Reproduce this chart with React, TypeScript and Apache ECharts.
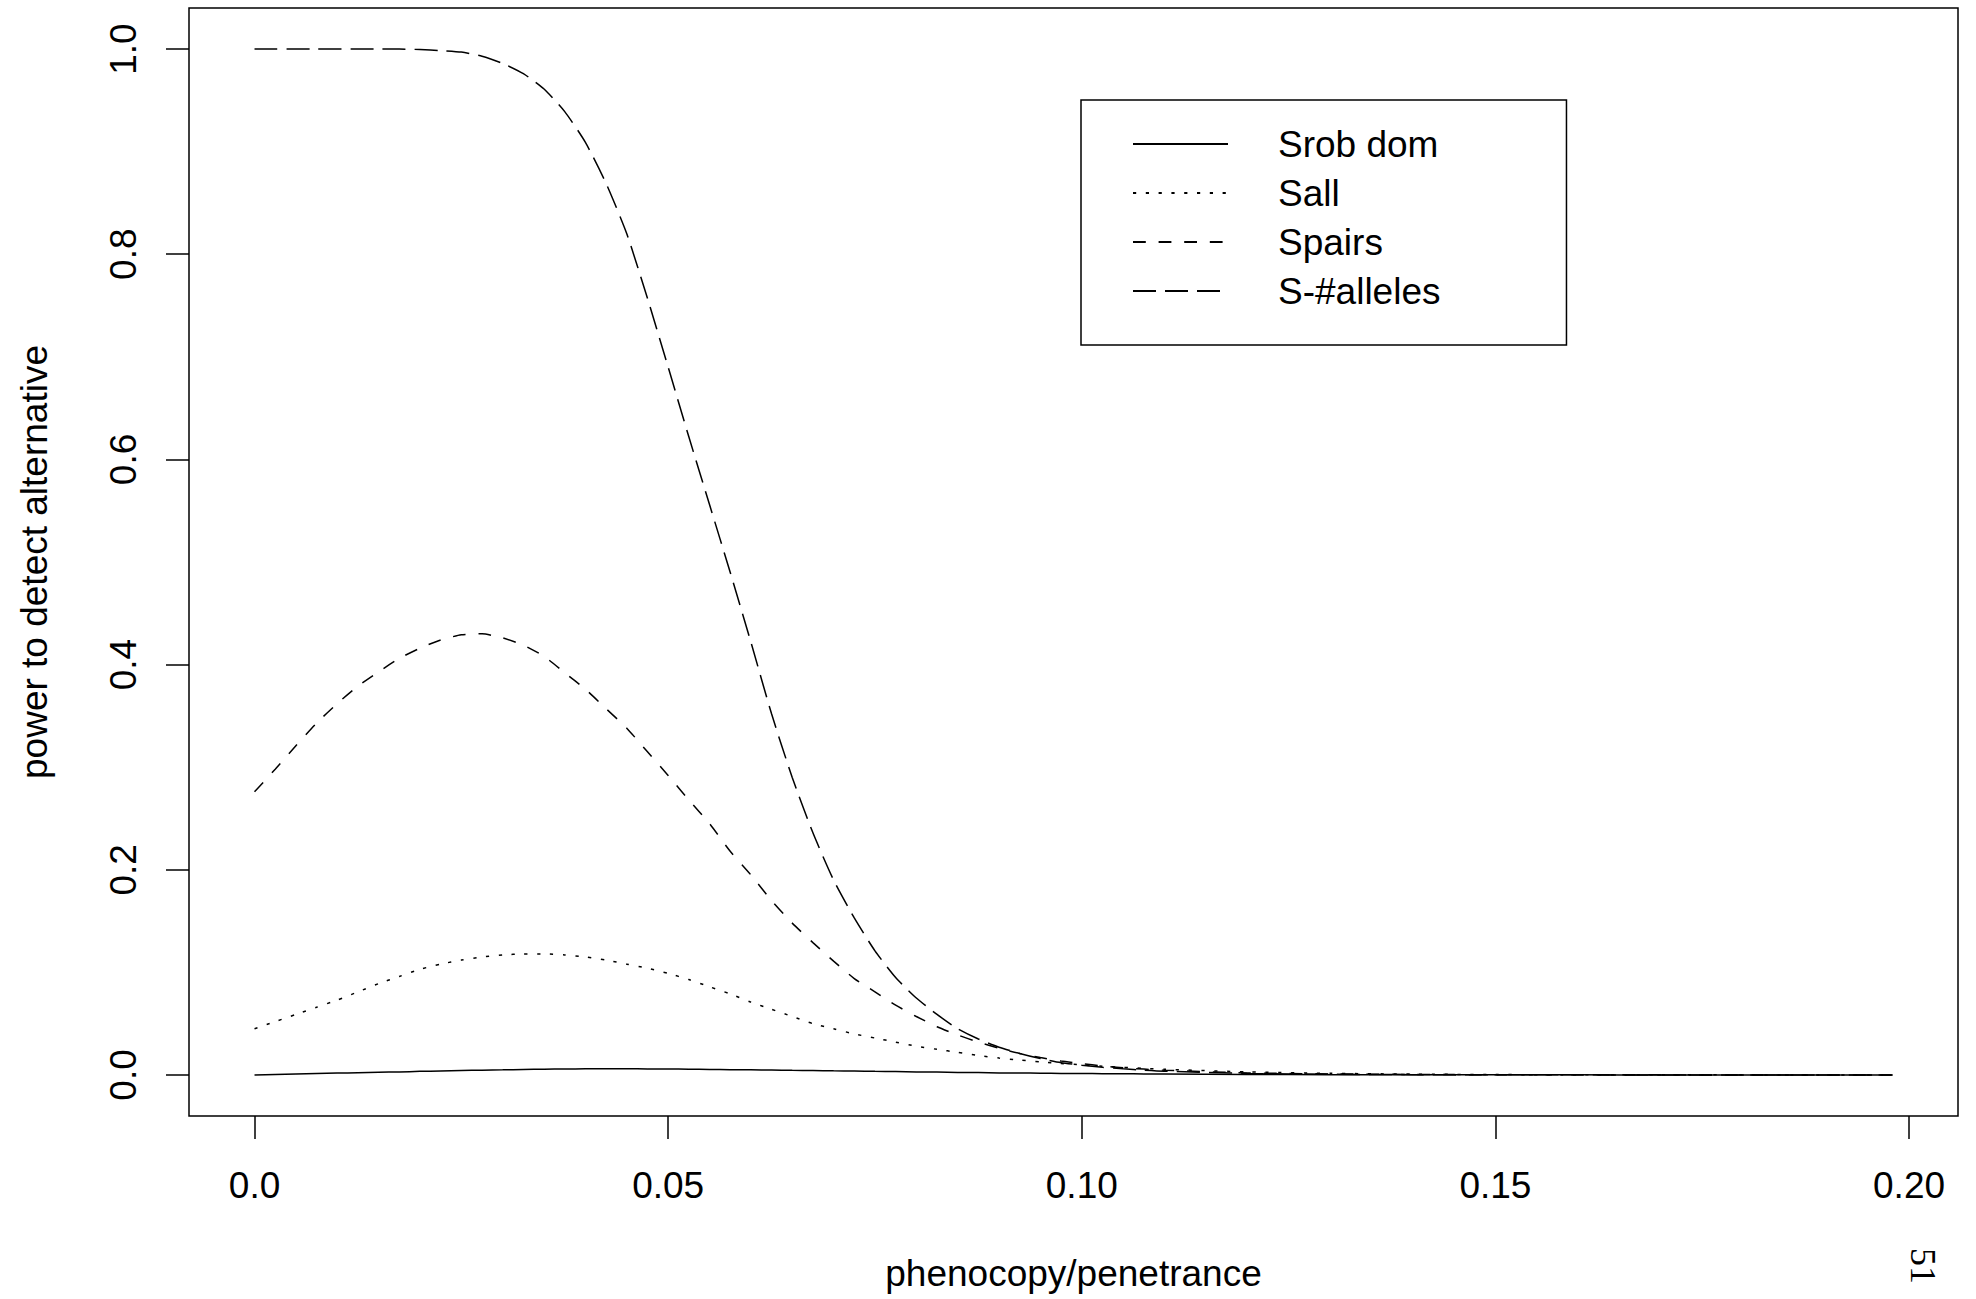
import React, { useEffect, useRef } from "react";
import * as echarts from "echarts";

// x positions (phenocopy/penetrance)
const xValues = [
  0, 0.0025, 0.005, 0.0075, 0.01, 0.0125, 0.015, 0.0175, 0.02, 0.0225,
  0.025, 0.0275, 0.03, 0.0325, 0.035, 0.0375, 0.04, 0.0425, 0.045, 0.0475,
  0.05, 0.0525, 0.055, 0.0575, 0.06, 0.0625, 0.065, 0.0675, 0.07, 0.0725,
  0.075, 0.0775, 0.08, 0.0825, 0.085, 0.0875, 0.09, 0.0925, 0.095, 0.0975,
  0.1, 0.1025, 0.105, 0.1075, 0.11, 0.12, 0.13, 0.14, 0.15, 0.16,
  0.17, 0.18, 0.19, 0.198,
];

const srobDom = [
  0, 0.0005, 0.001, 0.0014, 0.0018, 0.0022, 0.0026, 0.003, 0.0035, 0.0039,
  0.0043, 0.0047, 0.005, 0.0053, 0.0056, 0.0058, 0.006, 0.006, 0.006, 0.0059,
  0.0058, 0.0056, 0.0054, 0.0052, 0.005, 0.0048, 0.0045, 0.0043, 0.004, 0.0038,
  0.0035, 0.0033, 0.003, 0.0028, 0.0025, 0.0023, 0.002, 0.0019, 0.0017, 0.0015,
  0.0014, 0.0013, 0.0012, 0.001, 0.0009, 0.0005, 0.0003, 0.0002, 0.0001, 0.0001,
  0, 0, 0, 0,
];

const sAll = [
  0.045, 0.052, 0.059, 0.066, 0.073, 0.081, 0.089, 0.096, 0.103, 0.108,
  0.112, 0.115, 0.117, 0.118, 0.118, 0.117, 0.115, 0.112, 0.108, 0.104,
  0.099, 0.093, 0.086, 0.079, 0.071, 0.064, 0.057, 0.05, 0.045, 0.04,
  0.036, 0.032, 0.028, 0.025, 0.022, 0.019, 0.0165, 0.0145, 0.0128, 0.0112,
  0.0098, 0.0085, 0.0074, 0.0064, 0.0055, 0.003, 0.0016, 0.0008, 0.0004, 0.0002,
  0.0001, 0.0001, 0, 0,
];

const sPairs = [
  0.276, 0.298, 0.321, 0.343, 0.362, 0.379, 0.393, 0.406, 0.416, 0.424,
  0.429, 0.43, 0.426, 0.419, 0.408, 0.392, 0.376, 0.357, 0.338, 0.315,
  0.292, 0.268, 0.245, 0.218, 0.195, 0.17, 0.148, 0.129, 0.111, 0.094,
  0.081, 0.068, 0.057, 0.047, 0.039, 0.032, 0.026, 0.021, 0.017, 0.0135,
  0.011, 0.0088, 0.007, 0.0057, 0.0046, 0.002, 0.001, 0.0005, 0.0002, 0.0001,
  0.0001, 0, 0, 0,
];

const sAlleles = [
  1.0, 1.0, 1.0, 1.0, 1.0, 1.0, 1.0, 1.0, 0.9995, 0.9985,
  0.997, 0.993, 0.986, 0.976, 0.961, 0.939, 0.909, 0.869, 0.82, 0.757,
  0.69, 0.622, 0.556, 0.49, 0.422, 0.352, 0.29, 0.236, 0.19, 0.153,
  0.121, 0.095, 0.075, 0.059, 0.045, 0.035, 0.027, 0.021, 0.016, 0.012,
  0.0095, 0.0075, 0.006, 0.0047, 0.0037, 0.0015, 0.0007, 0.0003, 0.0001, 0.0001,
  0, 0, 0, 0,
];

const xTicks = [0, 0.05, 0.1, 0.15, 0.2];
const xTickLabels = ["0.0", "0.05", "0.10", "0.15", "0.20"];
const yTicks = [0, 0.2, 0.4, 0.6, 0.8, 1.0];
const yTickLabels = ["0.0", "0.2", "0.4", "0.6", "0.8", "1.0"];

const seriesNames = ["Srob dom", "Sall", "Spairs", "S-#alleles"];
const FONT = "Liberation Sans, Arial, Helvetica, sans-serif";

function pairs(ys: number[]) {
  return xValues.map((x, i) => [x, ys[i]]);
}

export default function App() {
  const ref = useRef<HTMLDivElement>(null);

  useEffect(() => {
    document.body.style.margin = "0";
    if (!ref.current) return;
    const chart = echarts.init(ref.current, undefined, { renderer: "svg" });

    const lineBase = { color: "#000", width: 1.5 };
    const seriesData = [srobDom, sAll, sPairs, sAlleles];
    const dashes: any[] = ["solid", [3.2, 9.6], [12.8, 12.8], [23, 9]];

    chart.setOption({
      animation: false,
      backgroundColor: "#fff",
      textStyle: { fontFamily: FONT, color: "#000" },
      grid: {
        left: 189,
        right: 18,
        top: 8,
        bottom: 183,
        show: true,
        borderColor: "#000",
        borderWidth: 1.5,
        backgroundColor: "transparent",
      },
      xAxis: {
        type: "value",
        min: -0.00792,
        max: 0.20592,
        name: "phenocopy/penetrance",
        nameLocation: "middle",
        nameGap: 139,
        nameTextStyle: { fontSize: 37, fontFamily: FONT, color: "#000" },
        axisLine: { show: false, onZero: false },
        splitLine: { show: false },
        axisTick: {
          show: true,
          inside: false,
          length: 23,
          customValues: xTicks,
          lineStyle: { color: "#000", width: 1.5 },
        },
        axisLabel: {
          show: true,
          customValues: xTicks,
          margin: 51,
          fontSize: 37,
          fontFamily: FONT,
          color: "#000",
          formatter: (v: number) => {
            const i = xTicks.findIndex((t) => Math.abs(t - v) < 1e-9);
            return i >= 0 ? xTickLabels[i] : "";
          },
        },
      },
      yAxis: {
        type: "value",
        min: -0.04,
        max: 1.04,
        name: "power to detect alternative",
        nameLocation: "middle",
        nameGap: 136,
        nameRotate: 90,
        nameTextStyle: { fontSize: 37, fontFamily: FONT, color: "#000" },
        axisLine: { show: false, onZero: false },
        splitLine: { show: false },
        axisTick: {
          show: true,
          inside: false,
          length: 23,
          customValues: yTicks,
          lineStyle: { color: "#000", width: 1.5 },
        },
        axisLabel: {
          show: true,
          customValues: yTicks,
          rotate: 90,
          margin: 47,
          fontSize: 37,
          fontFamily: FONT,
          color: "#000",
          formatter: (v: number) => {
            const i = yTicks.findIndex((t) => Math.abs(t - v) < 1e-9);
            return i >= 0 ? yTickLabels[i] : "";
          },
        },
      },
      legend: {
        orient: "vertical",
        left: 1081,
        top: 100,
        selectedMode: false,
        data: seriesNames,
        itemWidth: 95,
        itemHeight: 2,
        itemGap: 12,
        padding: [25.5, 126, 35.5, 51],
        borderColor: "#000",
        borderWidth: 1.5,
        backgroundColor: "#fff",
        itemStyle: { opacity: 0, borderWidth: 0 },
        textStyle: {
          fontSize: 37,
          lineHeight: 37,
          fontFamily: FONT,
          color: "#000",
          padding: [0, 0, 0, 45],
        },
      },
      series: seriesNames.map((name, i) => ({
        name,
        type: "line",
        data: pairs(seriesData[i]),
        showSymbol: false,
        symbol: "none",
        smooth: 0.2,
        lineStyle: { ...lineBase, type: dashes[i] },
        itemStyle: { color: "#000" },
        emphasis: { disabled: true },
        z: 2 + i,
      })),
      graphic: [
        {
          type: "text",
          x: 1923,
          y: 1266,
          rotation: -Math.PI / 2,
          style: {
            text: "51",
            fontSize: 36,
            fontFamily: "Liberation Serif, Times New Roman, serif",
            fill: "#000",
            align: "center",
            verticalAlign: "middle",
          },
        },
      ],
    });

    return () => chart.dispose();
  }, []);

  return <div ref={ref} style={{ width: 1976, height: 1299 }} />;
}
